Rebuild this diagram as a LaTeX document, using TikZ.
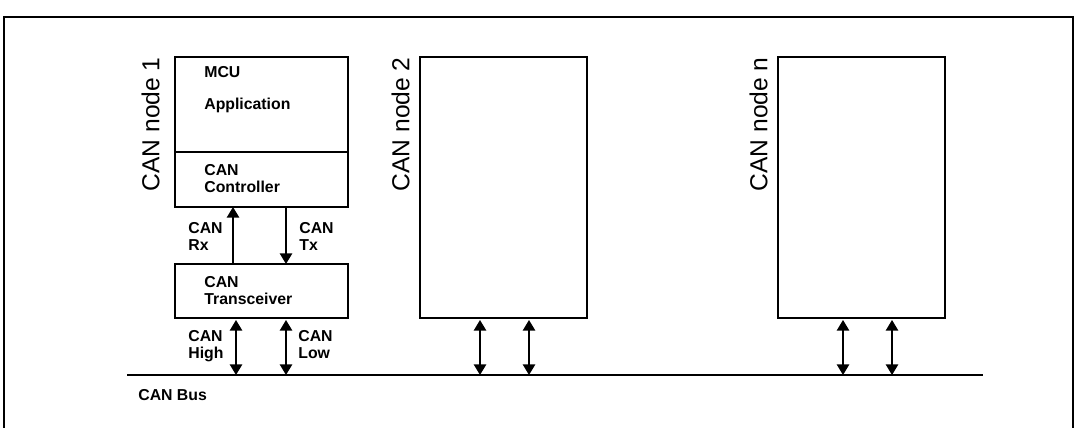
\documentclass[tikz,border=0pt]{standalone}
\usepackage{fontspec}
\setmainfont{Liberation Sans}
\usetikzlibrary{arrows.meta}
\begin{document}
\begin{tikzpicture}[x=0.02cm,y=-0.02cm,
	blk/.style={draw, thick},
	lbl/.style={font=\fontsize{9}{10}\selectfont\bfseries, align=left, anchor=north west, inner sep=0pt},
	side/.style={font=\fontsize{14}{15}\selectfont, rotate=90, anchor=south east, inner sep=0pt},
	sig/.style={thick, -{Triangle[length=6pt,width=7pt]}},
	bidir/.style={thick, {Triangle[length=6pt,width=7pt]}-{Triangle[length=6pt,width=7pt]}}]
	\useasboundingbox (0,0) rectangle (1077,428);
	\draw[thick] (4,440) -- (4,17) -- (1073,17) -- (1073,440);
	% node 1
	\draw[blk] (175,57) rectangle (348,152);
	\draw[blk] (175,152) rectangle (348,207);
	\draw[blk] (175,264) rectangle (348,318);
	\node[lbl] (mcu) at (204,66) {MCU};
	\node[lbl] (app) at (204,98) {Application};
	\node[lbl] (ctl) at (204,164) {CAN\\Controller};
	\node[lbl] (trx) at (204,276) {CAN\\Transceiver};
	\coordinate (rxa) at (233,264); \coordinate (rxb) at (233,207);
	\coordinate (txa) at (286,207); \coordinate (txb) at (286,264);
	\draw[sig] (rxa) -- (rxb);
	\draw[sig] (txa) -- (txb);
	\node[lbl] (rx) at (188,222) {CAN\\Rx};
	\node[lbl] (tx) at (299,222) {CAN\\Tx};
	\coordinate (hia) at (236,320); \coordinate (hib) at (236,375);
	\coordinate (loa) at (286,320); \coordinate (lob) at (286,375);
	\draw[bidir] (hia) -- (hib);
	\draw[bidir] (loa) -- (lob);
	\node[lbl] (hi) at (188,330) {CAN\\High};
	\node[lbl] (lo) at (298,330) {CAN\\Low};
	\node[side] (n1) at (160,57) {CAN node 1};
	% node 2 and node n
	\draw[blk] (420,57) rectangle (587,318);
	\node[side] (n2) at (410,57) {CAN node 2};
	\draw[blk] (778,57) rectangle (945,318);
	\node[side] (nn) at (768,57) {CAN node n};
	\foreach \x in {480,529,843,892}
		\draw[bidir] (\x,320) -- (\x,375);
	% bus
	\coordinate (busl) at (127,375); \coordinate (busr) at (983,375);
	\draw[thick] (busl) -- (busr);
	\node[lbl] (bus) at (138,389) {CAN Bus};
\end{tikzpicture}
\end{document}
